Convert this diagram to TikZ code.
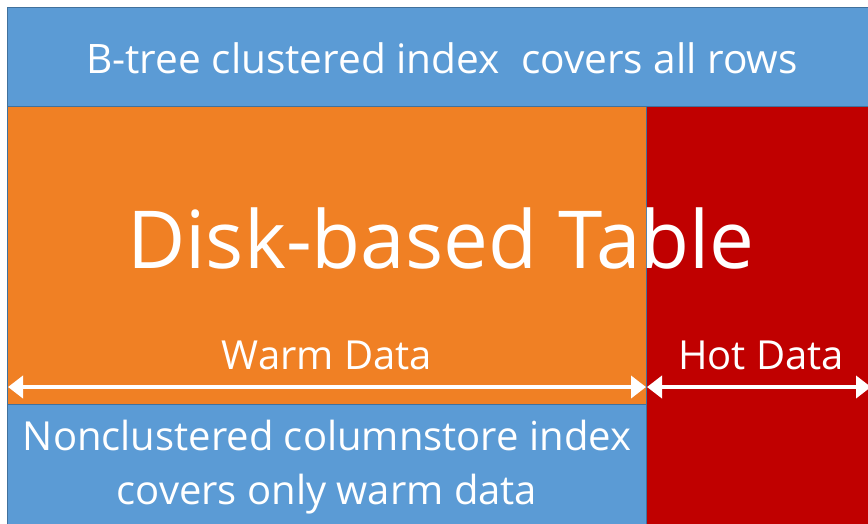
\documentclass[tikz,border=0pt]{standalone}
\usepackage{fontspec}
\setmainfont{Open Sans}
\usetikzlibrary{arrows.meta}
\definecolor{bblue}{HTML}{5B9BD5}
\definecolor{borange}{HTML}{F08024}
\definecolor{bred}{HTML}{C00000}
\definecolor{edge}{HTML}{41719C}
\tikzset{
  band/.style={draw=edge, line width=0.8pt},
  lbl/.style={text=white, inner sep=0pt, anchor=center},
  dimarrow/.style={white, line width=4pt, {Triangle[width=22pt,length=15pt]}-{Triangle[width=22pt,length=15pt]}, shorten <=-1pt, shorten >=-1pt}
}
\begin{document}
\begin{tikzpicture}[x=1pt,y=-1pt]
\useasboundingbox[fill=white] (0,0) rectangle (868,523);
\fill[borange] (7,106) rectangle (646,404);
\fill[bred] (646,106) rectangle (880,530);
\fill[bblue] (7,404) rectangle (646,530);
\draw[band, fill=bblue] (7,7) rectangle (880,106);
\draw[band] (7,106) -- (7,530);
\draw[band] (7,404) -- (646,404);
\draw[band] (646,106) -- (646,530);
\node[lbl, font=\fontsize{40.6}{46}\selectfont] (top) at (442,58) {B-tree clustered index\ \ covers all rows};
\node[lbl, font=\fontsize{80}{96}\selectfont] (title) at (441,238) {Disk-based Table};
\node[lbl, font=\fontsize{40}{43}\selectfont] (warm) at (327,355) {Warm Data};
\node[lbl, font=\fontsize{40}{43}\selectfont] (hot) at (761,355) {Hot Data};
\node[lbl, font=\fontsize{40}{54}\selectfont, align=center] (nci) at (327,467) {Nonclustered columnstore index\\covers only warm data};
\coordinate (wl) at (9,387);
\coordinate (wr) at (645,387);
\coordinate (hl) at (648,387);
\coordinate (hr) at (870,387);
\draw[dimarrow] (wl) -- (wr);
\draw[dimarrow] (hl) -- (hr);
\end{tikzpicture}
\end{document}
